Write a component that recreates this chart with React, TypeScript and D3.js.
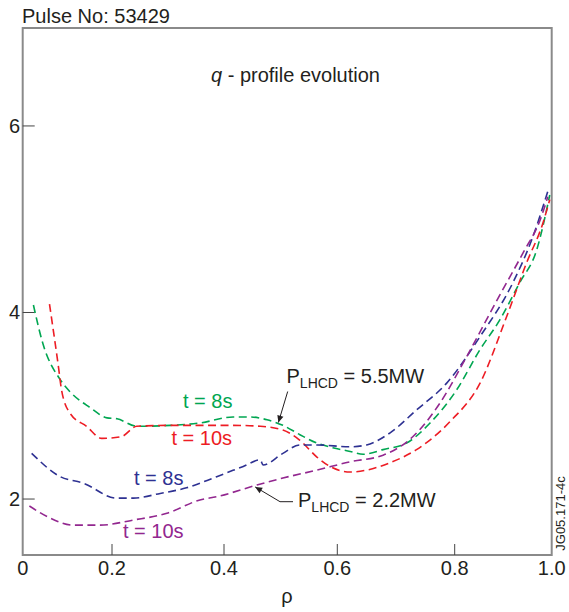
import React from 'react';
import * as d3 from 'd3';

// ---- data ----
const xTicks = [0, 0.2, 0.4, 0.6, 0.8, 1.0];
const xTickLabels = ['0', '0.2', '0.4', '0.6', '0.8', '1.0'];
const yTicks = [2, 4, 6];
const yTickLabels = ['2', '4', '6'];

// P_LHCD = 5.5MW, t = 8s (green)
const rhoG = [0.024, 0.045, 0.084, 0.106, 0.151, 0.189, 0.209, 0.245, 0.304, 0.357, 0.416, 0.446, 0.476, 0.504, 0.534, 0.564, 0.592, 0.622, 0.644, 0.678, 0.718, 0.758, 0.804, 0.852, 0.893, 0.934, 0.969, 0.996];
const qG = [4.08, 3.67, 3.28, 3.15, 2.98, 2.87, 2.86, 2.78, 2.79, 2.815, 2.88, 2.88, 2.85, 2.79, 2.69, 2.60, 2.55, 2.51, 2.48, 2.53, 2.60, 2.815, 3.17, 3.60, 3.92, 4.32, 4.67, 5.26];

// P_LHCD = 5.5MW, t = 10s (red)
const rhoR = [0.060, 0.080, 0.087, 0.106, 0.143, 0.177, 0.217, 0.244, 0.304, 0.357, 0.416, 0.464, 0.504, 0.534, 0.564, 0.587, 0.622, 0.650, 0.690, 0.735, 0.792, 0.852, 0.907, 0.948, 0.982, 0.996];
const qR = [4.09, 3.42, 3.17, 2.92, 2.78, 2.65, 2.67, 2.78, 2.79, 2.79, 2.79, 2.78, 2.74, 2.63, 2.45, 2.35, 2.29, 2.31, 2.39, 2.53, 2.83, 3.24, 3.955, 4.53, 4.96, 5.21];

// P_LHCD = 2.2MW, t = 8s (blue)
const rhoB = [0.020, 0.084, 0.136, 0.208, 0.238, 0.286, 0.333, 0.387, 0.434, 0.464, 0.469, 0.504, 0.534, 0.564, 0.622, 0.650, 0.690, 0.735, 0.786, 0.852, 0.920, 0.961, 0.992];
const qB = [2.49, 2.24, 2.17, 2.01, 2.01, 2.06, 2.12, 2.24, 2.35, 2.42, 2.365, 2.49, 2.58, 2.58, 2.56, 2.58, 2.71, 2.955, 3.24, 3.74, 4.32, 4.81, 5.30];

// P_LHCD = 2.2MW, t = 10s (purple)
const rhoP = [0.015, 0.061, 0.113, 0.173, 0.238, 0.298, 0.357, 0.387, 0.458, 0.504, 0.564, 0.622, 0.678, 0.729, 0.775, 0.825, 0.887, 0.941, 0.976, 0.992];
const qP = [1.925, 1.797, 1.72, 1.72, 1.775, 1.847, 1.99, 2.025, 2.15, 2.225, 2.31, 2.40, 2.47, 2.67, 3.03, 3.53, 4.13, 4.64, 4.99, 5.24];

const seriesNames = ['t = 8s', 't = 10s', 't = 8s', 't = 10s'];
const seriesColors = ['#00a651', '#ed1c24', '#2e3192', '#92278f'];

const FONT = '"Liberation Sans", Arial, Helvetica, sans-serif';
const TXT = '#231f20';

export default function App() {
  const W = 569, H = 612;
  const left = 22.7, right = 551.7, top = 28, bottom = 555;

  const x = d3.scaleLinear().domain(xTicks).range([left, 112, 224, 337.3, 454.7, right]);
  const y = d3.scaleLinear().domain([1.4, 7.05]).range([bottom, top]);

  const line = d3.line<[number, number]>()
    .x(d => x(d[0]))
    .y(d => y(d[1]))
    .curve(d3.curveMonotoneX);

  const series = [
    rhoG.map((r, i) => [r, qG[i]] as [number, number]),
    rhoR.map((r, i) => [r, qR[i]] as [number, number]),
    rhoB.map((r, i) => [r, qB[i]] as [number, number]),
    rhoP.map((r, i) => [r, qP[i]] as [number, number]),
  ];

  const labelPos = [
    { x: 183, y: 408 },
    { x: 171.5, y: 445 },
    { x: 134, y: 485 },
    { x: 123, y: 538 },
  ];

  // arrow tips in data coordinates
  const tip1: [number, number] = [0.496, 2.82];
  const tip2: [number, number] = [0.455, 2.13];

  return (
    <svg width={W} height={H} style={{ position: 'absolute', left: 0, top: 0, background: '#fff' }}
      fontFamily={FONT}>
      <defs>
        <marker id="arrowhead" viewBox="0 0 10 10" refX="10" refY="5" markerWidth="10" markerHeight="7"
          markerUnits="userSpaceOnUse" orient="auto">
          <path d="M0,0.5 L10,5 L0,9.5 z" fill="#231f20" />
        </marker>
      </defs>
      <rect x={0} y={0} width={W} height={H} fill="#fff" />

      <text x={22} y={22.5} fontSize={20} fill={TXT}>Pulse No: 53429</text>

      {/* frame */}
      <rect x={left} y={top} width={right - left} height={bottom - top} fill="none" stroke="#8a8a8a" strokeWidth={2} />

      {/* x ticks */}
      {xTicks.map((t, i) => (
        <g key={'xt' + i}>
          {i > 0 && i < xTicks.length - 1 && (
            <line x1={x(t)} x2={x(t)} y1={bottom} y2={bottom - 11} stroke="#444" strokeWidth={1} />
          )}
          <text x={x(t)} y={575} fontSize={20} textAnchor="middle" fill={TXT}>{xTickLabels[i]}</text>
        </g>
      ))}

      {/* y ticks */}
      {yTicks.map((t, i) => (
        <g key={'yt' + i}>
          <line x1={left} x2={left + 12} y1={y(t)} y2={y(t)} stroke="#444" strokeWidth={1} />
          <text x={20} y={y(t) + 7} fontSize={20} textAnchor="end" fill={TXT}>{yTickLabels[i]}</text>
        </g>
      ))}

      <text x={287} y={603} fontSize={20} textAnchor="middle" fill={TXT}>ρ</text>

      <text x={211} y={82} fontSize={20} fill={TXT}>
        <tspan fontStyle="italic">q</tspan> - profile evolution
      </text>

      {/* curves */}
      {series.map((s, i) => (
        <path key={'s' + i} d={line(s) || ''} fill="none" stroke={seriesColors[i]} strokeWidth={1.6}
          strokeDasharray="8 4.5" />
      ))}

      {/* series labels */}
      {seriesNames.map((n, i) => (
        <text key={'l' + i} x={labelPos[i].x} y={labelPos[i].y} fontSize={20} fill={seriesColors[i]}>{n}</text>
      ))}

      {/* P_LHCD = 5.5MW annotation */}
      <text x={286.5} y={383} fontSize={20} fill={TXT}>
        P<tspan fontSize={14} dy={5}>LHCD</tspan><tspan dy={-5}> = 5.5MW</tspan>
      </text>
      <line x1={287.7} y1={391.5} x2={x(tip1[0])} y2={y(tip1[1])} stroke="#231f20" strokeWidth={1}
        markerEnd="url(#arrowhead)" />

      {/* P_LHCD = 2.2MW annotation */}
      <text x={298} y={507} fontSize={20} fill={TXT}>
        P<tspan fontSize={14} dy={5}>LHCD</tspan><tspan dy={-5}> = 2.2MW</tspan>
      </text>
      <polyline points={`293,501.7 280,501.7 ${x(tip2[0])},${y(tip2[1])}`} fill="none" stroke="#231f20"
        strokeWidth={1} markerEnd="url(#arrowhead)" />

      <text transform="translate(565,513.5) rotate(-90)" fontSize={13} textAnchor="middle" fill={TXT}>JG05.171-4c</text>
    </svg>
  );
}
